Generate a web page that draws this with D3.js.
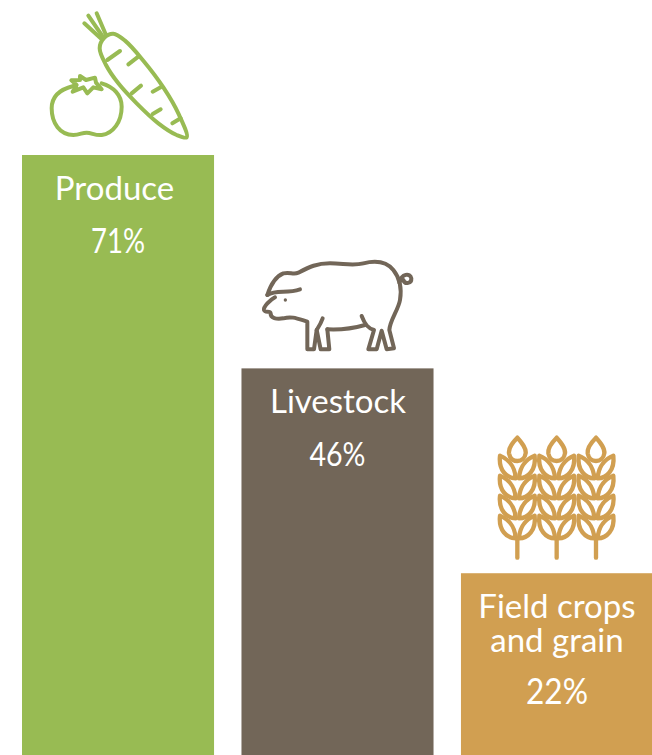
<!DOCTYPE html>
<html>
<head>
<meta charset="utf-8">
<style>
  html, body { margin: 0; padding: 0; background: #fff; overflow: hidden; }
  svg { display: block; }
  text { font-family: Lato, sans-serif; fill: #fff; text-anchor: middle; }
</style>
</head>
<body>
<div id="chart"></div>
<script src="https://cdn.jsdelivr.net/npm/d3@7"></script>
<script>
var categories = ["Produce", "Livestock", "Field crops and grain"];
var values = [71, 46, 22];
var labelLines = [["Produce"], ["Livestock"], ["Field crops", "and grain"]];
var colors = ["#98bb53", "#726658", "#d19f51"];

var width = 652, height = 755;

var svg = d3.select("#chart").append("svg")
  .attr("width", width)
  .attr("height", height);

var x = d3.scaleBand()
  .domain(categories)
  .range([22, 653])
  .paddingInner(0.125)
  .paddingOuter(0);

// the bars run on past the bottom of the picture
var y = d3.scaleLinear()
  .domain([0, 71])
  .range([761, 155]);

svg.selectAll("rect.bar")
  .data(values)
  .enter().append("rect")
  .attr("class", "bar")
  .attr("x", function (d, i) { return x(categories[i]); })
  .attr("y", function (d) { return y(d); })
  .attr("width", x.bandwidth())
  .attr("height", function (d) { return y(0) - y(d); })
  .attr("fill", function (d, i) { return colors[i]; });

// labels
var labelShift = [-3.5, 0.5, 0];
var valueSize = [34, 33, 36];
var valueLength = [54, 56, 62];

values.forEach(function (v, i) {
  var cx = x(categories[i]) + x.bandwidth() / 2;
  var top = y(v);
  var label = svg.append("text")
    .attr("y", top + 45)
    .attr("font-size", 33);
  labelLines[i].forEach(function (line, j) {
    label.append("tspan")
      .attr("x", cx + labelShift[i])
      .attr("dy", j == 0 ? 0 : 34)
      .text(line);
  });
  svg.append("text")
    .attr("x", cx)
    .attr("y", top + 98 + (labelLines[i].length - 1) * 33)
    .attr("font-size", valueSize[i])
    .attr("textLength", valueLength[i])
    .attr("lengthAdjust", "spacingAndGlyphs")
    .text(v + "%");
});

// icons, paths are in 3x coordinates
function icon(tx, ty, color, sw) {
  return svg.append("g")
    .attr("transform", "translate(" + tx + "," + ty + ") scale(" + (1 / 3) + ")")
    .attr("fill", "none")
    .attr("stroke", color)
    .attr("stroke-width", sw)
    .attr("stroke-linecap", "round")
    .attr("stroke-linejoin", "round");
}

var carrotOutline = [[222, 114], [250, 101], [285, 122], [340, 182], [400, 262], [445, 340], [470, 412],
  [440, 405], [385, 370], [320, 310], [265, 250], [228, 195], [209, 145]];
var carrotPaths = [
  "M228,105 L200,40", "M217,108 L175,47", "M212,115 L163,70",
  "M232,180 L270,153", "M295,193 L325,170", "M305,280 L333,257",
  "M368,275 L392,262", "M368,342 L392,328", "M427,370 L452,355",
  "M130,258 C90,268 65,290 65,325 C65,370 90,405 130,405 C150,405 155,398 170,398 C185,398 195,407 215,405 C250,400 275,365 275,320 C275,285 250,260 215,250",
  "M124,241 L150,240 L150,228 L168,240 L195,233 L198,248 L215,268 L190,262 L172,280 L160,262 L128,275 L140,255 Z"
];
var pigPaths = [
  "M52,135 C60,110 75,80 100,70 C120,65 130,75 145,68 C180,50 200,40 240,40 C280,40 310,48 340,40 C380,30 410,35 430,60 C450,85 455,120 450,150 C445,180 420,210 418,240 L432,295 L410,298 L395,242 L380,298 L355,298 L372,240 C355,235 345,225 335,198",
  "M52,135 C80,118 110,132 150,118",
  "M75,142 C60,150 40,170 42,180 C45,190 60,180 62,190 C60,205 80,208 100,205 C125,198 140,205 172,215 L172,298 L192,298 L200,240 L212,298 L238,298 L232,238",
  "M345,225 C310,235 270,240 232,238",
  "M218,205 C212,222 205,232 200,240",
  "M448,98 C455,70 480,68 484,85 C485,100 465,105 460,90"
];
var grainStalkX = [97, 215, 333];
var grainRowY = [0, 60, 120, 180];

var carrot = icon(30, 0, colors[0], 12);
carrot.append("path").attr("d", d3.line().curve(d3.curveCatmullRomClosed)(carrotOutline));
carrotPaths.forEach(function (p) { carrot.append("path").attr("d", p); });

var pig = icon(250, 250, colors[1], 12);
pigPaths.forEach(function (p) { pig.append("path").attr("d", p); });
pig.append("circle").attr("cx", 106).attr("cy", 150).attr("r", 5)
  .attr("fill", colors[1]).attr("stroke", "none");

var grain = icon(485, 425, colors[2], 13);
grainStalkX.forEach(function (sx) {
  var s = grain.append("g").attr("transform", "translate(" + (sx - 97) + ",0)");
  s.append("path").attr("d", "M97,345 L97,398");
  s.append("path").attr("d", "M97,38 C80,55 70,70 72,85 C75,100 85,108 97,108 C109,108 120,100 122,85 C124,70 112,55 97,38 Z");
  grainRowY.forEach(function (dy) {
    s.append("path").attr("transform", "translate(0," + dy + ")")
      .attr("d", "M45,92 C65,100 90,120 92,160 C65,160 40,135 45,92 Z");
    s.append("path").attr("transform", "translate(0," + dy + ")")
      .attr("d", "M149,92 C129,100 104,120 102,160 C129,160 154,135 149,92 Z");
  });
});
</script>
</body>
</html>
